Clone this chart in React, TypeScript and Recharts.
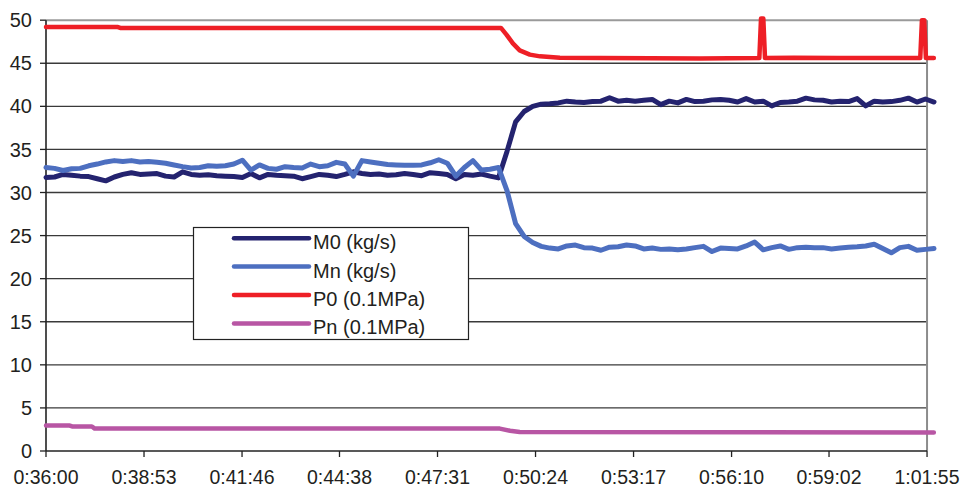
import React from 'react';
import { LineChart, Line, XAxis, YAxis, ReferenceLine } from 'recharts';

// Time axis: clock labels, positions are seconds after the first label
const X_TICK_LABELS = [
  '0:36:00', '0:38:53', '0:41:46', '0:44:38', '0:47:31',
  '0:50:24', '0:53:17', '0:56:10', '0:59:02', '1:01:55',
];
const Y_TICKS = [0, 5, 10, 15, 20, 25, 30, 35, 40, 45, 50];

// Mass-flow logger samples (one every SAMPLE_SECONDS)
const SAMPLE_SECONDS = 15.07;
const M0_VALUES = [
  31.75, 31.8, 32.1, 32.0, 31.9, 31.85, 31.6, 31.35, 31.8, 32.1,
  32.3, 32.1, 32.15, 32.2, 31.9, 31.8, 32.4, 32.1, 32.0, 32.05,
  31.95, 31.9, 31.85, 31.75, 32.2, 31.7, 32.1, 32.0, 31.95, 31.9,
  31.6, 31.85, 32.1, 32.0, 31.85, 32.1, 32.4, 32.2, 32.1, 32.15,
  32.0, 32.05, 32.2, 32.1, 31.95, 32.3, 32.2, 32.1, 31.6, 32.1,
  32.0, 32.15, 31.9, 31.7, 34.8, 38.2, 39.4, 40.0, 40.25, 40.3,
  40.4, 40.6, 40.5, 40.45, 40.55, 40.6, 41.0, 40.6, 40.7, 40.6,
  40.7, 40.8, 40.2, 40.6, 40.4, 40.8, 40.55, 40.6, 40.75, 40.8,
  40.7, 40.5, 40.9, 40.5, 40.6, 40.05, 40.45, 40.5, 40.6, 40.95,
  40.75, 40.7, 40.5, 40.6, 40.55, 40.9, 40.05, 40.6, 40.5, 40.55,
  40.7, 40.95, 40.5, 40.85, 40.5,
];
const MN_VALUES = [
  32.9, 32.8, 32.55, 32.75, 32.8, 33.1, 33.3, 33.55, 33.7, 33.6,
  33.7, 33.55, 33.6, 33.5, 33.4, 33.2, 33.0, 32.85, 32.9, 33.1,
  33.05, 33.1, 33.3, 33.75, 32.6, 33.2, 32.8, 32.7, 33.0, 32.9,
  32.85, 33.3, 33.0, 33.1, 33.5, 33.3, 31.9, 33.7, 33.55, 33.4,
  33.25, 33.2, 33.15, 33.15, 33.2, 33.45, 33.8, 33.4, 31.9, 32.9,
  33.7, 32.6, 32.7, 32.9, 30.2, 26.4, 24.9, 24.2, 23.75, 23.55,
  23.45, 23.8, 23.9, 23.6, 23.55, 23.3, 23.65, 23.7, 23.9, 23.8,
  23.45, 23.55, 23.4, 23.45, 23.35, 23.45, 23.6, 23.75, 23.15, 23.55,
  23.5, 23.45, 23.8, 24.25, 23.35, 23.6, 23.8, 23.4, 23.6, 23.65,
  23.6, 23.6, 23.45, 23.55, 23.65, 23.7, 23.8, 24.0, 23.5, 23.0,
  23.6, 23.75, 23.3, 23.4, 23.5,
];

// Pressure channels are logged on change, so they carry their own time stamps (s)
const P0_TIMES = [0, 127, 131, 803, 813, 824, 836, 854, 872, 907, 978, 1154, 1259, 1262, 1266, 1269, 1320, 1400, 1507, 1543, 1546, 1550, 1553, 1567];
const P0_VALUES = [49.2, 49.2, 49.1, 49.1, 48.3, 47.3, 46.5, 46.0, 45.8, 45.65, 45.6, 45.55, 45.6, 50.2, 50.2, 45.6, 45.65, 45.6, 45.6, 45.6, 50.0, 50.0, 45.6, 45.6];
const PN_TIMES = [0, 42, 46, 81, 86, 801, 819, 836, 1567];
const PN_VALUES = [2.95, 2.95, 2.85, 2.85, 2.6, 2.6, 2.35, 2.2, 2.15];

const SERIES_NAMES = ['M0 (kg/s)', 'Mn (kg/s)', 'P0 (0.1MPa)', 'Pn (0.1MPa)'];
const SERIES_COLORS = ['#24236f', '#4d6fc0', '#ee1f26', '#b856a4'];

const toSeconds = (label: string) => {
  const [h, m, s] = label.split(':').map(Number);
  return h * 3600 + m * 60 + s;
};
const T0 = toSeconds(X_TICK_LABELS[0]);
const X_TICKS = X_TICK_LABELS.map((l) => toSeconds(l) - T0);
const X_END = X_TICKS[X_TICKS.length - 1];
const X_MAX = (M0_VALUES.length - 1) * SAMPLE_SECONDS;

const massData = M0_VALUES.map((v, i) => ({ t: i * SAMPLE_SECONDS, m0: v, mn: MN_VALUES[i] }));
const p0Data = P0_TIMES.map((t, i) => ({ t, p0: P0_VALUES[i] }));
const pnData = PN_TIMES.map((t, i) => ({ t, pn: PN_VALUES[i] }));

const FONT = '"Liberation Sans", Arial, sans-serif';
const TEXT = '#231f20';

const labelFor = (sec: number) => {
  const idx = X_TICKS.indexOf(sec);
  return idx >= 0 ? X_TICK_LABELS[idx] : '';
};

function LegendBox() {
  const left = 193;
  const top = 227;
  return (
    <svg width={963} height={488} style={{ position: 'absolute', left: 0, top: 0, pointerEvents: 'none' }}>
      <rect x={left + 0.5} y={top + 0.5} width={275} height={112} fill="#fff" stroke="#222" strokeWidth={1.2} />
      {SERIES_NAMES.map((name, k) => {
        const ly = 238.2 + k * 28.4;
        return (
          <g key={name}>
            <line x1={234} x2={309} y1={ly} y2={ly} stroke={SERIES_COLORS[k]} strokeWidth={4.5} strokeLinecap="round" />
            <text x={313} y={ly + 11} fontFamily={FONT} fontSize={20} fill={TEXT}>{name}</text>
          </g>
        );
      })}
    </svg>
  );
}

export default function App() {
  return (
    <div style={{ position: 'absolute', left: 0, top: 0, width: 963, height: 488, background: '#fff' }}>
      <LineChart width={963} height={488} data={massData} margin={{ top: 15, right: 29, bottom: 0, left: 0 }}>
        <XAxis
          type="number"
          dataKey="t"
          domain={[0, X_MAX]}
          ticks={X_TICKS}
          tickFormatter={labelFor}
          interval={0}
          height={37}
          axisLine={false}
          tickLine={{ stroke: '#222', strokeWidth: 1.3 }}
          tickSize={6}
          tickMargin={13}
          tick={{ fill: TEXT, fontSize: 19.5, fontFamily: FONT }}
        />
        <YAxis
          type="number"
          domain={[0, 50.6]}
          ticks={Y_TICKS}
          interval={0}
          width={46}
          axisLine={false}
          tickLine={{ stroke: '#222', strokeWidth: 1.3 }}
          tickSize={6}
          tickMargin={8}
          tick={{ fill: TEXT, fontSize: 20, fontFamily: FONT }}
        />
        {Y_TICKS.filter((v) => v > 0).map((v) => (
          <ReferenceLine
            key={`g${v}`}
            segment={[{ x: 0, y: v }, { x: X_END, y: v }]}
            stroke={v === 50 ? '#9a9a9a' : '#3a3a3a'}
            strokeWidth={v === 50 ? 2 : 1.4}
          />
        ))}
        <ReferenceLine segment={[{ x: X_END, y: 0 }, { x: X_END, y: 50 }]} stroke="#8c8c8c" strokeWidth={2} />
        <ReferenceLine segment={[{ x: 0, y: 0 }, { x: X_END, y: 0 }]} stroke="#222" strokeWidth={1.5} />
        <ReferenceLine segment={[{ x: 0, y: 0 }, { x: 0, y: 50 }]} stroke="#222" strokeWidth={1.6} />
        <Line type="linear" dataKey="m0" stroke={SERIES_COLORS[0]} strokeWidth={5} dot={false} activeDot={false}
          strokeLinecap="round" strokeLinejoin="round" isAnimationActive={false} />
        <Line type="linear" dataKey="mn" stroke={SERIES_COLORS[1]} strokeWidth={5} dot={false} activeDot={false}
          strokeLinecap="round" strokeLinejoin="round" isAnimationActive={false} />
        <Line type="linear" data={p0Data} dataKey="p0" stroke={SERIES_COLORS[2]} strokeWidth={4.5} dot={false} activeDot={false}
          strokeLinecap="round" strokeLinejoin="round" isAnimationActive={false} />
        <Line type="linear" data={pnData} dataKey="pn" stroke={SERIES_COLORS[3]} strokeWidth={4.5} dot={false} activeDot={false}
          strokeLinecap="round" strokeLinejoin="round" isAnimationActive={false} />
      </LineChart>
      <LegendBox />
    </div>
  );
}
